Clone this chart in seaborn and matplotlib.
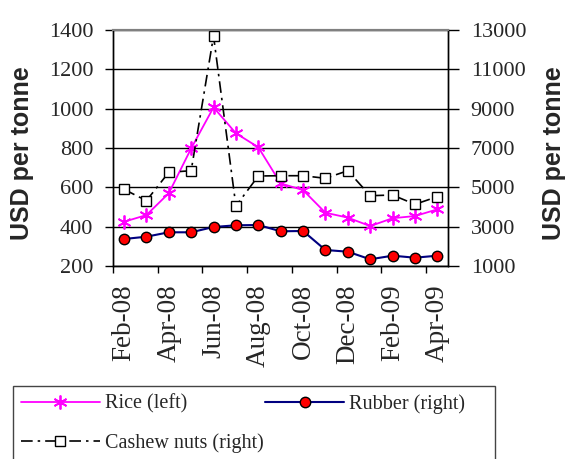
import numpy as np
import pandas as pd
import matplotlib
matplotlib.use("Agg")
import matplotlib.pyplot as plt
from matplotlib.patches import Rectangle
import seaborn as sns

# Monthly prices, Feb-08 .. Apr-09
months = ["Feb-08", "Mar-08", "Apr-08", "May-08", "Jun-08", "Jul-08", "Aug-08",
          "Sep-08", "Oct-08", "Nov-08", "Dec-08", "Jan-09", "Feb-09", "Mar-09", "Apr-09"]
rice = [425, 459, 570, 798, 1007, 875, 804, 620, 586, 471, 446, 403, 443, 454, 488]
rubber = [2373, 2490, 2714, 2714, 2983, 3070, 3085, 2765, 2780, 1814, 1727, 1341,
          1524, 1422, 1524]
cashew = [4900, 4321, 5765, 5846, 12696, 4051, 5577, 5592, 5592, 5460, 5846, 4575,
          4610, 4137, 4524]

df = pd.DataFrame({"month": months, "rice": rice, "rubber": rubber, "cashew": cashew})
df["idx"] = np.arange(len(df))

sns.set_style("white")
plt.rcParams["font.family"] = ["Liberation Serif", "DejaVu Serif"]

fig = plt.figure(figsize=(5.67, 4.59), dpi=100)
ax = fig.add_axes([0.199, 0.4205, 0.592, 0.514])
ax2 = ax.twinx()

# left axis: rice
sns.lineplot(data=df, x="idx", y="rice", ax=ax, color="#FF00FF", lw=1.3,
             marker=(6, 2, 0), markersize=10, markeredgecolor="#FF00FF",
             markeredgewidth=1.3, label="Rice (left)", legend=False)

# right axis: rubber and cashew
sns.lineplot(data=df, x="idx", y="rubber", ax=ax2, color="#000080", lw=1.5,
             marker="o", markersize=7.5, markerfacecolor="#FF0000",
             markeredgecolor="black", markeredgewidth=1.0,
             label="Rubber (right)", legend=False)
sns.lineplot(data=df, x="idx", y="cashew", ax=ax2, color="black", lw=1.2,
             linestyle=(0, (7, 3, 1.5, 3)), marker="s", markersize=7.5,
             markerfacecolor="white", markeredgecolor="black",
             markeredgewidth=1.0, label="Cashew nuts (right)", legend=False)

ax.set_xlim(-0.5, 14.5)
ax.set_ylim(200, 1400)
ax.set_yticks(np.arange(200, 1401, 200))
ax2.set_ylim(1000, 13000)
ax2.set_yticks(np.arange(1000, 13001, 2000))

ax.set_xticks(df["idx"][::2])
ax.set_xticklabels(df["month"][::2], rotation=90, fontsize=19.5)
ax.set_xticks(np.arange(-0.5, 14.6, 2), minor=True)
ax.tick_params(axis="x", which="major", length=0, pad=13)
ax.tick_params(axis="x", which="minor", length=5, width=1, direction="out",
               bottom=True, color="black")
ax.tick_params(axis="y", length=6, width=1, direction="out", left=True,
               labelsize=16, pad=8, color="black")
ax2.tick_params(axis="y", length=8, width=1, direction="out", right=True,
                labelsize=16, pad=8, color="black")
ax.set_xlabel("")

ax.grid(axis="y", color="black", lw=1)
ax.set_axisbelow(True)

for a in (ax, ax2):
    for s in ("left", "right", "bottom"):
        a.spines[s].set_color("black")
        a.spines[s].set_linewidth(1)
    a.spines["top"].set_color("#808080")
    a.spines["top"].set_linewidth(1.5)

lab = dict(fontsize=18, fontweight="bold", family=["Liberation Sans", "DejaVu Sans"])
ax.set_ylabel("USD per tonne", **lab)
ax2.set_ylabel("USD per tonne", **lab)
ax.yaxis.set_label_coords(-0.27, 0.477)
ax2.yaxis.set_label_coords(1.315, 0.477)
for a in (ax, ax2):
    a.yaxis.label.set_va("center")

# legend
h1, l1 = ax.get_legend_handles_labels()
h2, l2 = ax2.get_legend_handles_labels()
handles = [h1[0], h2[1], h2[0]]
labels = [l1[0], l2[1], l2[0]]
fig.legend(handles, labels, ncol=2, loc="upper left",
           bbox_to_anchor=(21 / 567, 1 - 394 / 459), frameon=False,
           fontsize=14.5, handlelength=3.9, handletextpad=0.25,
           columnspacing=0.1, labelspacing=0.95, borderpad=0, borderaxespad=0)
fig.patches.append(Rectangle((13 / 567, -0.05), 482 / 567, 1 - 386 / 459 + 0.05,
                             transform=fig.transFigure, fill=False,
                             edgecolor="#444444", lw=1))

fig.savefig("out.png", dpi=100)
